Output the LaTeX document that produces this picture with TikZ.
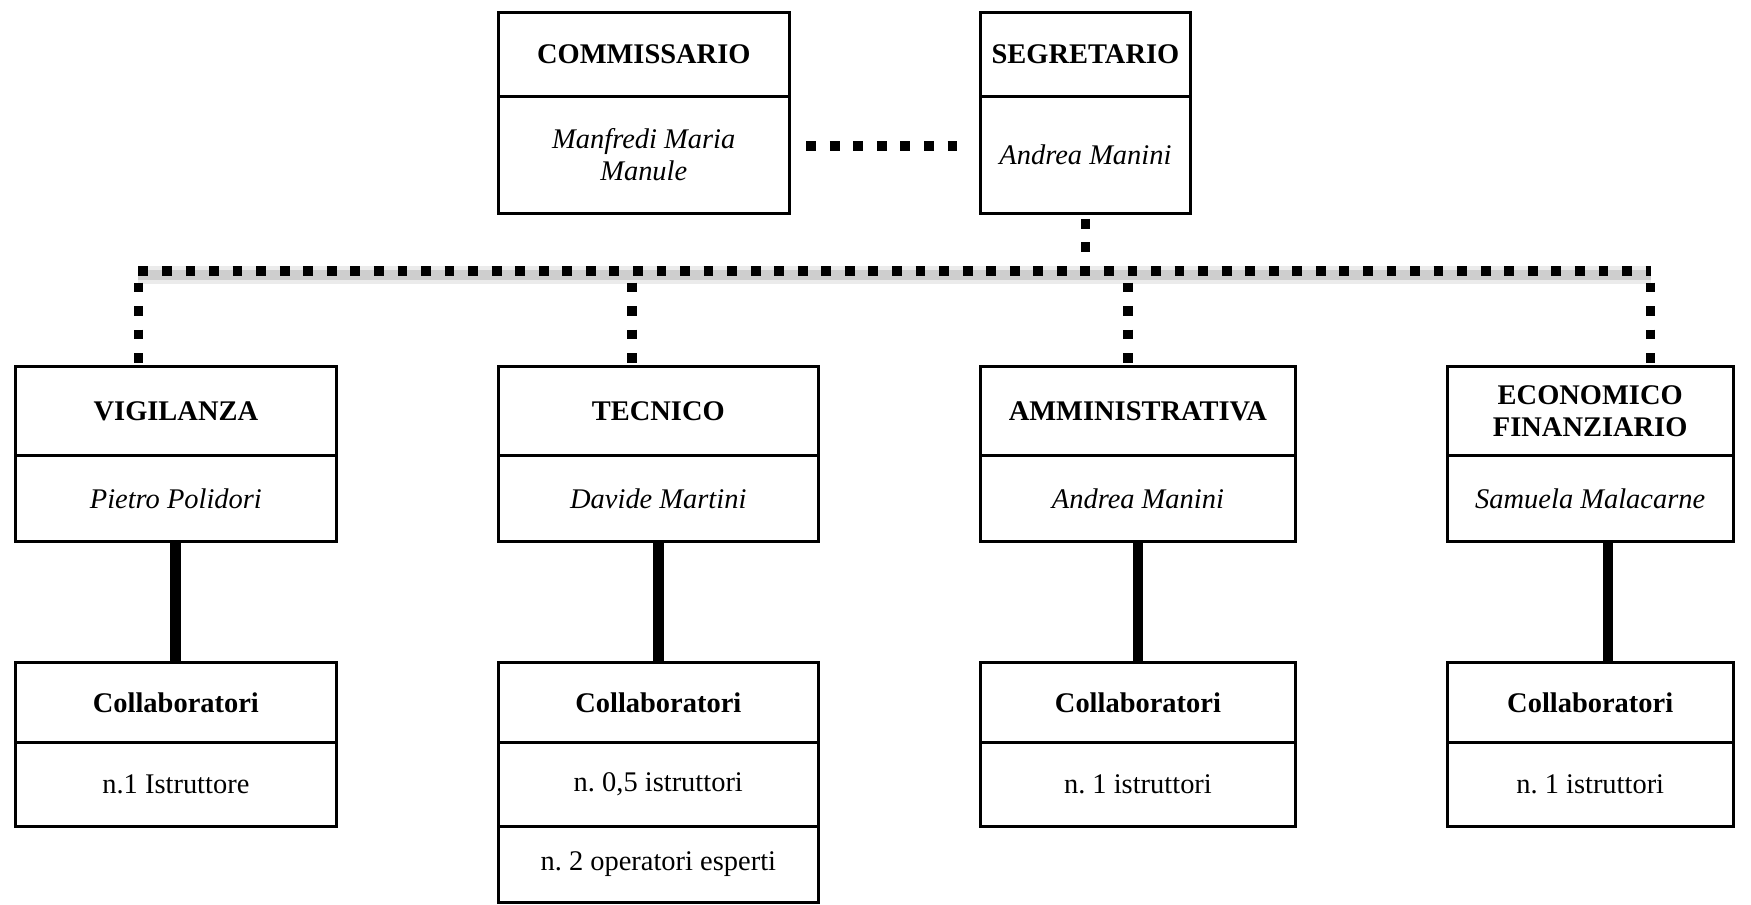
\documentclass[tikz,border=0pt]{standalone}
\usepackage{fontspec}
\setmainfont{Liberation Serif}
\usepackage{tikz}
\usetikzlibrary{positioning}
\frenchspacing
\tikzset{
  boxcell/.style={draw, line width=1.5pt, outer sep=0pt, inner sep=0pt, align=center, font=\fontsize{14.5}{16.5}\selectfont},
  boxhead/.style={boxcell, font=\fontsize{14.5}{16.5}\selectfont\bfseries},
  boxwho/.style={boxcell, font=\fontsize{14.5}{16.5}\selectfont\itshape},
  dotline/.style={line width=5pt, dash pattern=on 5pt off 7pt},
  solidline/.style={line width=5.5pt},
}

\begin{document}
\begin{tikzpicture}
    \useasboundingbox (0,0) rectangle (31.36,-16.2);

    % vertici
    \node[boxhead, minimum width=5.22cm, minimum height=1.5cm] at (11.53,-0.97) (comm) {COMMISSARIO};
    \node[boxwho, minimum width=5.22cm, minimum height=2.1cm, below=0pt of comm] (commname) {Manfredi Maria\\Manule};
    \node[boxhead, minimum width=3.76cm, minimum height=1.5cm] at (19.44,-0.97) (seg) {SEGRETARIO};
    \node[boxwho, minimum width=3.76cm, minimum height=2.1cm, below=0pt of seg] (segname) {Andrea Manini};

    % aree
    \node[boxhead, minimum width=5.74cm, minimum height=1.6cm] at (3.15,-7.36) (vig) {VIGILANZA};
    \node[boxwho, minimum width=5.74cm, minimum height=1.54cm, below=0pt of vig] (vigname) {Pietro Polidori};
    \node[boxhead, minimum width=5.74cm, minimum height=1.6cm] at (11.79,-7.36) (tec) {TECNICO};
    \node[boxwho, minimum width=5.74cm, minimum height=1.54cm, below=0pt of tec] (tecname) {Davide Martini};
    \node[boxhead, minimum width=5.64cm, minimum height=1.6cm] at (20.38,-7.36) (amm) {AMMINISTRATIVA};
    \node[boxwho, minimum width=5.64cm, minimum height=1.54cm, below=0pt of amm] (ammname) {Andrea Manini};
    \node[boxhead, minimum width=5.12cm, minimum height=1.6cm] at (28.48,-7.36) (eco) {ECONOMICO\\FINANZIARIO};
    \node[boxwho, minimum width=5.12cm, minimum height=1.54cm, below=0pt of eco] (econame) {Samuela Malacarne};

    % collaboratori
    \node[boxhead, minimum width=5.74cm, minimum height=1.44cm] at (3.15,-12.58) (vigcol) {Collaboratori};
    \node[boxcell, minimum width=5.74cm, minimum height=1.5cm, below=0pt of vigcol] (vign) {n.1 Istruttore};
    \node[boxhead, minimum width=5.74cm, minimum height=1.44cm] at (11.79,-12.58) (teccol) {Collaboratori};
    \node[boxcell, minimum width=5.74cm, minimum height=1.5cm, below=0pt of teccol] (tecn) {n. 0,5 istruttori};
    \node[boxcell, minimum width=5.74cm, minimum height=1.36cm, below=0pt of tecn] (tecop) {n. 2 operatori esperti};
    \node[boxhead, minimum width=5.64cm, minimum height=1.44cm] at (20.38,-12.58) (ammcol) {Collaboratori};
    \node[boxcell, minimum width=5.64cm, minimum height=1.5cm, below=0pt of ammcol] (ammn) {n. 1 istruttori};
    \node[boxhead, minimum width=5.12cm, minimum height=1.44cm] at (28.48,-12.58) (ecocol) {Collaboratori};
    \node[boxcell, minimum width=5.12cm, minimum height=1.5cm, below=0pt of ecocol] (econ) {n. 1 istruttori};

    % collegamenti
    \draw[dotline, shorten <=3mm, shorten >=3mm] ([yshift=1.6mm]commname.east) -- ([yshift=1.6mm]segname.west);
    \coordinate (d1) at (2.48,-4.86);
    \coordinate (d2) at (11.32,-4.86);
    \coordinate (d3) at (20.2,-4.86);
    \coordinate (d4) at (29.56,-4.86);
    \draw[black, opacity=.08, line width=9pt] ([yshift=-2pt]d1) -- ([yshift=-2pt]d4);
    \draw[black, opacity=.12, line width=5pt] ([yshift=-2pt]d1) -- ([yshift=-2pt]d4);
    \draw[dotline] (d1) -- (d4);
    \draw[dotline, shorten <=1mm] (segname.south) -- (segname.south |- d1);
    \foreach \d/\n in {d1/vig, d2/tec, d3/amm, d4/eco}
      \draw[dotline, shorten <=2mm] (\d) -- (\d |- \n.north);
    \foreach \a/\b in {vigname/vigcol, tecname/teccol, ammname/ammcol}
      \draw[solidline] (\a.south) -- (\b.north);
    \draw[solidline] ([xshift=3.2mm]econame.south) -- ([xshift=3.2mm]ecocol.north);
\end{tikzpicture}
\end{document}
